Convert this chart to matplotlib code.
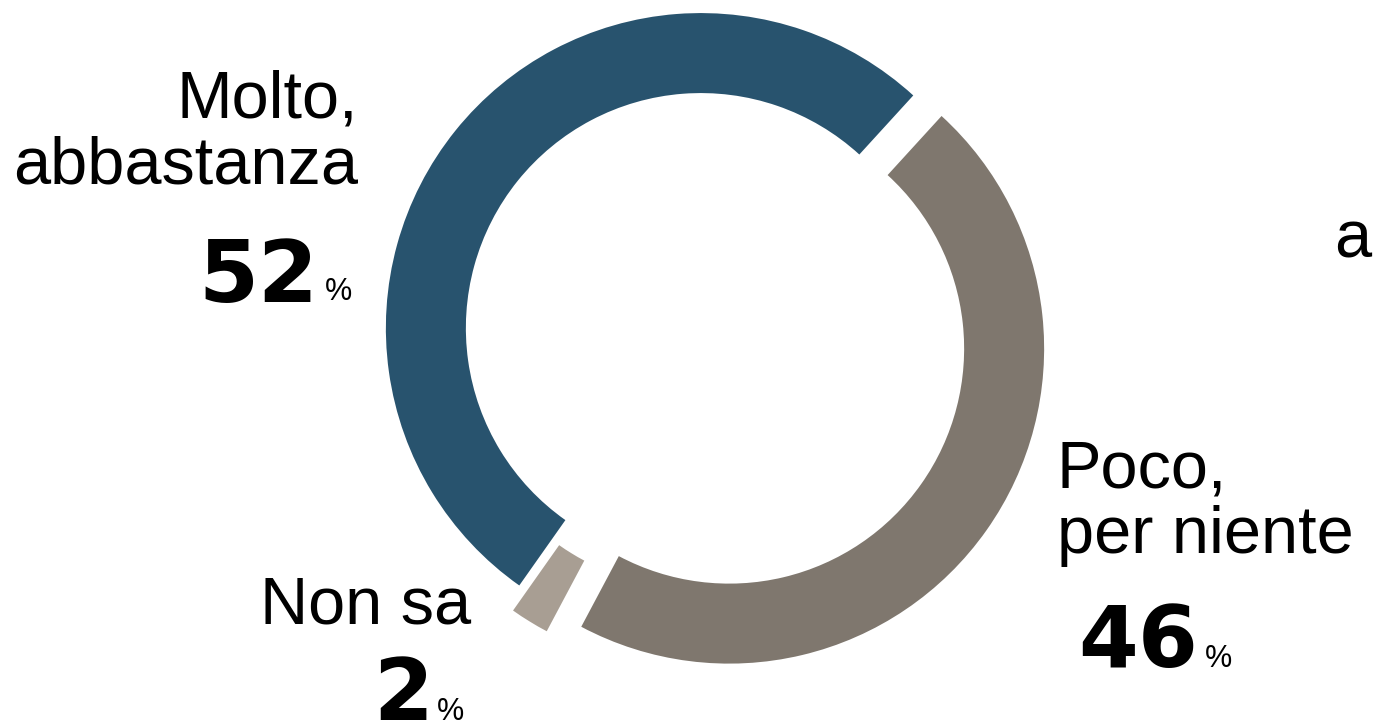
import matplotlib
matplotlib.use("Agg")
import matplotlib.pyplot as plt

# ── data ───────────────────────────────────────────────────────────────────
categories = [["Molto,", "abbastanza"], ["Poco,", "per niente"], ["Non sa"]]
shares     = [52, 46, 2]
colors     = ["#28536E", "#7F776E", "#A89E93"]
explode    = [0.025, 0.086, 0.075]

W, H = 1373, 726
DPI = 100
LABEL_FONT = "Liberation Sans"
NUM_FONT = "DejaVu Sans"

fig = plt.figure(figsize=(W / DPI, H / DPI), dpi=DPI, facecolor="white")

# ── donut ──────────────────────────────────────────────────────────────────
R_PX = 315            # outer radius in pixels
CX, CY = 707, 333     # ring centre, pixels from top-left
S = 700               # side of the square pie axes, pixels
ax_p = fig.add_axes([(CX - S / 2) / W, (H - CY - S / 2) / H, S / W, S / H])
ax_p.pie(shares, colors=colors, explode=explode,
         startangle=-125.2, counterclock=False, radius=1.0,
         wedgeprops=dict(width=80 / R_PX, linewidth=0))
lim = S / 2 / R_PX
ax_p.set_xlim(-lim, lim)
ax_p.set_ylim(-lim, lim)
ax_p.set_aspect("equal")
ax_p.axis("off")

# ── labels (pixel coordinates, y down) ────────────────────────────────────
ax_t = fig.add_axes([0, 0, 1, 1], zorder=5)
ax_t.set_xlim(0, W)
ax_t.set_ylim(H, 0)
ax_t.axis("off")
ax_t.patch.set_visible(False)

lab_kw = dict(family=LABEL_FONT, fontsize=48, color="black", va="baseline")
num_kw = dict(family=NUM_FONT, fontsize=62, fontweight="heavy",
              color="black", va="baseline", ha="center")
pct_kw = dict(family=LABEL_FONT, fontsize=22, color="black",
              va="baseline", ha="left")

# Molto, abbastanza — right aligned, left of the ring
ax_t.text(358, 118, categories[0][0], ha="right", **lab_kw)
ax_t.text(358, 184, categories[0][1], ha="right", **lab_kw)
ax_t.text(258, 302, f"{shares[0]}", **num_kw)
ax_t.text(325, 300, "%", **pct_kw)

# Poco, per niente — left aligned, right of the ring
ax_t.text(1057, 487, categories[1][0], ha="left", **lab_kw)
ax_t.text(1057, 553, categories[1][1], ha="left", **lab_kw)
ax_t.text(1138, 667, f"{shares[1]}", **num_kw)
ax_t.text(1205, 667, "%", **pct_kw)

# Non sa — below left
ax_t.text(471, 624, categories[2][0], ha="right", **lab_kw)
ax_t.text(403, 720, f"{shares[2]}", **num_kw)
ax_t.text(437, 720, "%", **pct_kw)

# stray glyph at the right edge
ax_t.text(1334, 258, "a", ha="left", **lab_kw)

fig.savefig("out.png", dpi=DPI, facecolor="white")
